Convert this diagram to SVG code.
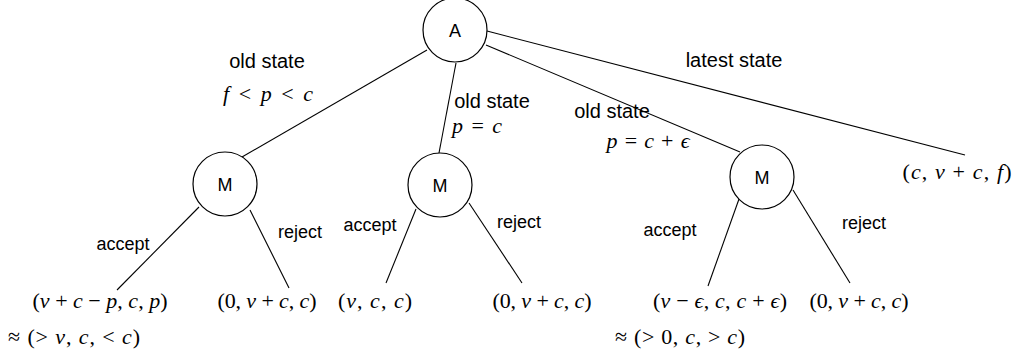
<svg xmlns="http://www.w3.org/2000/svg" width="1014" height="358" viewBox="0 0 1014 358">
<style>
.node{fill:#fff;stroke:#000;stroke-width:1.2}
.edge{stroke:#000;stroke-width:1.1;fill:none}
.lbl{font-family:"Liberation Sans",Arial,sans-serif;font-size:18px;fill:#000}
.st{font-family:"Liberation Sans",Arial,sans-serif;font-size:20px;fill:#000}
.m{font-family:"Liberation Serif","Times New Roman",serif;font-size:22px;fill:#000}
.i{font-style:italic}
</style>
<rect width="1014" height="358" fill="#fff"/>
<g id="connectors">
<line class="edge" x1="427" y1="50" x2="242" y2="157"/>
<line class="edge" x1="456" y1="63" x2="439" y2="153"/>
<line class="edge" x1="486" y1="45" x2="740" y2="152"/>
<line class="edge" x1="487" y1="31" x2="965" y2="155"/>
<line class="edge" x1="199" y1="207" x2="117" y2="290"/>
<line class="edge" x1="250" y1="210" x2="289" y2="288"/>
<line class="edge" x1="416" y1="209" x2="386" y2="283"/>
<line class="edge" x1="469" y1="203" x2="522" y2="283"/>
<line class="edge" x1="739" y1="199" x2="708" y2="286"/>
<line class="edge" x1="793" y1="190" x2="850" y2="283"/>
</g>
<g id="nodeA"><circle class="node" cx="455" cy="30" r="32"/><text class="lbl" x="455" y="36.5" text-anchor="middle">A</text></g>
<g id="nodeM1"><circle class="node" cx="225" cy="184" r="32"/><text class="lbl" x="225" y="190.5" text-anchor="middle">M</text></g>
<g id="nodeM2"><circle class="node" cx="440" cy="185" r="32"/><text class="lbl" x="440" y="191.5" text-anchor="middle">M</text></g>
<g id="nodeM3"><circle class="node" cx="762" cy="177" r="32"/><text class="lbl" x="762" y="183.5" text-anchor="middle">M</text></g>
<g id="labels">
<text class="st" x="267" y="68" text-anchor="middle">old state</text>
<text class="m" x="268" y="101" text-anchor="middle" textLength="90" lengthAdjust="spacing"><tspan class="i">f</tspan> &lt; <tspan class="i">p</tspan> &lt; <tspan class="i">c</tspan></text>
<text class="st" x="492" y="108" text-anchor="middle">old state</text>
<text class="m" x="477" y="133" text-anchor="middle" textLength="50" lengthAdjust="spacing"><tspan class="i">p</tspan> = <tspan class="i">c</tspan></text>
<text class="st" x="612" y="118" text-anchor="middle">old state</text>
<text class="m" x="648" y="148" text-anchor="middle" textLength="83" lengthAdjust="spacing"><tspan class="i">p</tspan> = <tspan class="i">c</tspan> + <tspan class="i">ϵ</tspan></text>
<text class="st" x="734" y="67" text-anchor="middle">latest state</text>
<text class="lbl" x="123" y="250" text-anchor="middle">accept</text>
<text class="lbl" x="300" y="238" text-anchor="middle">reject</text>
<text class="lbl" x="370" y="231" text-anchor="middle">accept</text>
<text class="lbl" x="519" y="228" text-anchor="middle">reject</text>
<text class="lbl" x="670" y="236" text-anchor="middle">accept</text>
<text class="lbl" x="864" y="229" text-anchor="middle">reject</text>
</g>
<g id="leaves">
<text class="m" x="957" y="179" text-anchor="middle" textLength="109" lengthAdjust="spacing">(<tspan class="i">c</tspan>, <tspan class="i">v</tspan> + <tspan class="i">c</tspan>, <tspan class="i">f</tspan>)</text>
<text class="m" x="100" y="308" text-anchor="middle" textLength="135" lengthAdjust="spacing">(<tspan class="i">v</tspan> + <tspan class="i">c</tspan> − <tspan class="i">p</tspan>, <tspan class="i">c</tspan>, <tspan class="i">p</tspan>)</text>
<text class="m" x="74" y="344" text-anchor="middle" textLength="132" lengthAdjust="spacing">≈ (&gt; <tspan class="i">v</tspan>, <tspan class="i">c</tspan>, &lt; <tspan class="i">c</tspan>)</text>
<text class="m" x="267" y="308" text-anchor="middle" textLength="99" lengthAdjust="spacing">(0, <tspan class="i">v</tspan> + <tspan class="i">c</tspan>, <tspan class="i">c</tspan>)</text>
<text class="m" x="375" y="308" text-anchor="middle" textLength="74" lengthAdjust="spacing">(<tspan class="i">v</tspan>, <tspan class="i">c</tspan>, <tspan class="i">c</tspan>)</text>
<text class="m" x="542" y="308" text-anchor="middle" textLength="99" lengthAdjust="spacing">(0, <tspan class="i">v</tspan> + <tspan class="i">c</tspan>, <tspan class="i">c</tspan>)</text>
<text class="m" x="720" y="308" text-anchor="middle" textLength="134" lengthAdjust="spacing">(<tspan class="i">v</tspan> − <tspan class="i">ϵ</tspan>, <tspan class="i">c</tspan>, <tspan class="i">c</tspan> + <tspan class="i">ϵ</tspan>)</text>
<text class="m" x="859" y="308" text-anchor="middle" textLength="99" lengthAdjust="spacing">(0, <tspan class="i">v</tspan> + <tspan class="i">c</tspan>, <tspan class="i">c</tspan>)</text>
<text class="m" x="680" y="344" text-anchor="middle" textLength="130" lengthAdjust="spacing">≈ (&gt; 0, <tspan class="i">c</tspan>, &gt; <tspan class="i">c</tspan>)</text>
</g>
</svg>
